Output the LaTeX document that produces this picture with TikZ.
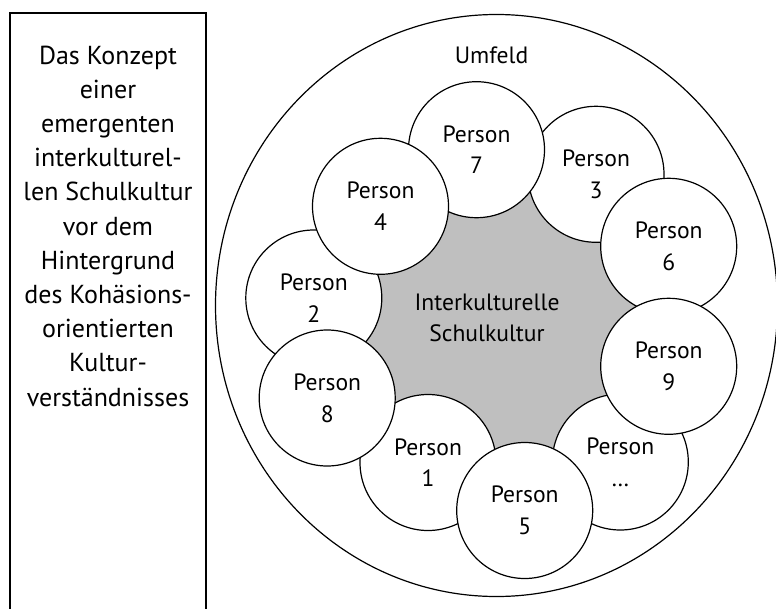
\documentclass[tikz,border=0pt]{standalone}
\usepackage{fontspec}
\setmainfont{PT Sans}
\usetikzlibrary{shapes.geometric}
\definecolor{kernfill}{gray}{0.75}
\begin{document}
\begin{tikzpicture}[x=1pt,y=-1pt,line width=1.2pt,
  person/.style={circle,draw,fill=white,minimum size=136pt,inner sep=0pt,align=center,
    font=\fontsize{23.6}{31.7}\selectfont},
  txt/.style={align=center,inner sep=0pt,font=\fontsize{23.6}{31.7}\selectfont},
  boxtxt/.style={align=center,inner sep=0pt,font=\fontsize{26}{34.2}\selectfont}]
\useasboundingbox (0,0) rectangle (776,608);
% left box
\draw (10,640) -- (10,13) -- (206,13) -- (206,640);
\node[boxtxt,anchor=base] (konzept) at (108,406) {Das Konzept\\einer\\emergenten\\interkulturel-\\len Schulkultur\\vor dem\\Hintergrund\\des Kohäsions-\\orientierten\\Kultur-\\verständnisses};
% outer field
\node[ellipse,draw,fill=white,minimum width=562pt,minimum height=582pt,inner sep=0pt] (umfeld) at (496.5,305.5) {};
\node[txt,anchor=base] (umfeldlabel) at (491.5,63.3) {Umfeld};
% centres
\coordinate (c7) at (476.5,149.7);
\coordinate (c3) at (596,174.3);
\coordinate (c4) at (380.5,206.3);
\coordinate (c6) at (668.7,246.3);
\coordinate (c2) at (313.8,298);
\coordinate (c9) at (668.7,366.3);
\coordinate (c8) at (327.2,398);
\coordinate (cd) at (620.3,462);
\coordinate (c1) at (428,462.5);
\coordinate (c5) at (524.7,510.5);
% core
\fill[kernfill] (c7) -- (c3) -- (c6) -- (c9) -- (cd) -- (c5) -- (c1) -- (c8) -- (c2) -- (c4) -- cycle;
\node[txt,anchor=base] (kern) at (487,341.7) {Interkulturelle\\Schulkultur};
% persons
\node[person] (p3) at (c3) {Person\\3};
\node[person] (p7) at (c7) {Person\\7};
\node[person] (p2) at (c2) {Person\\2};
\node[person] (p4) at (c4) {Person\\4};
\node[person] (p6) at (c6) {Person\\6};
\node[person] (pd) at (cd) {Person\\…};
\node[person] (p9) at (c9) {Person\\9};
\node[person] (p1) at (c1) {Person\\1};
\node[person] (p8) at (c8) {Person\\8};
\node[person] (p5) at (c5) {Person\\5};
\end{tikzpicture}
\end{document}
